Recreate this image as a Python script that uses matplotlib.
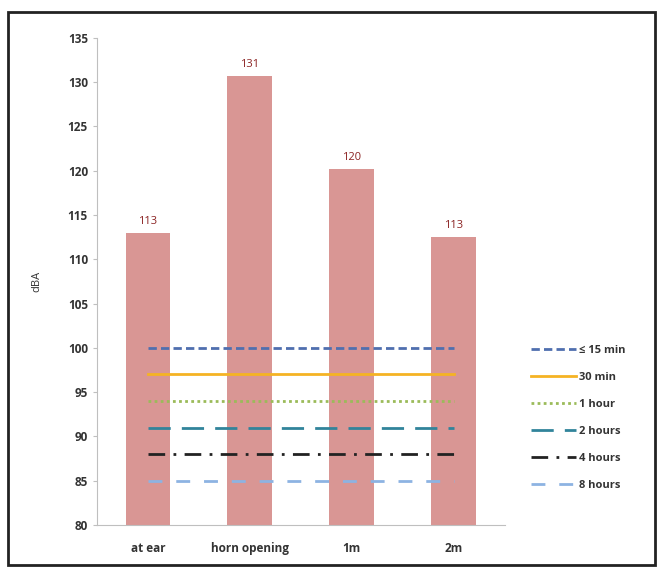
import matplotlib.pyplot as plt
from matplotlib.patches import Rectangle

categories = ["at ear", "horn opening", "1m", "2m"]
levels = [113.0, 130.7, 120.2, 112.5]
level_labels = ["113", "131", "120", "113"]

limit_names = ["\u2264 15 min", "30 min", "1 hour", "2 hours", "4 hours", "8 hours"]
limit_values = [100, 97, 94, 91, 88, 85]
limit_colors = ["#4F6FAF", "#F5B324", "#9BBB59", "#31849B", "#222222", "#8DB3E2"]
limit_styles = [(0, (3, 1.5)), "-", (0, (1, 1.2)), (0, (8, 4)), (0, (6, 3, 1, 3)), (0, (5, 5))]

plt.rcParams['font.family'] = ['Open Sans', 'DejaVu Sans']

fig = plt.figure(figsize=(6.62, 5.71), dpi=100)
ax = fig.add_axes([0.1465, 0.0806, 0.616, 0.853])

x = list(range(len(categories)))
ax.bar(x, levels, width=0.44, color="#D99694", zorder=1)
for xi, v, lab in zip(x, levels, level_labels):
    ax.text(xi, v + 0.7, lab, ha="center", va="bottom", fontsize=8, color="#8B2323")

for name, val, col, ls in zip(limit_names, limit_values, limit_colors, limit_styles):
    ax.plot(x, [val] * len(x), color=col, linestyle=ls, linewidth=2, label=name, zorder=2)

ax.set_xlim(-0.5, 3.5)
ax.set_ylim(80, 135)
ax.set_yticks(range(80, 136, 5))
ax.set_xticks(x)
ax.set_xticklabels(categories, fontsize=8.5, fontweight="bold", color="#333333")
ax.tick_params(axis="y", labelsize=8.5, colors="#333333", length=3)
ax.tick_params(axis="x", length=0, pad=12)
for lab in ax.get_yticklabels():
    lab.set_fontweight("bold")
ax.set_ylabel("dBA", fontsize=8, color="#333333", labelpad=18)

for s in ["top", "right"]:
    ax.spines[s].set_visible(False)
ax.spines["left"].set_color("#BFBFBF")
ax.spines["bottom"].set_color("#BFBFBF")
ax.tick_params(axis="y", color="#BFBFBF")

leg = ax.legend(loc="center left", bbox_to_anchor=(1.04, 0.22), frameon=False,
                fontsize=8, handlelength=4, labelspacing=1.45, handletextpad=0.3)
for t in leg.get_texts():
    t.set_fontweight("bold")
    t.set_color("#333333")

fig.patches.append(Rectangle((8 / 662, 6 / 571), 647 / 662, 553 / 571, transform=fig.transFigure,
                             fill=False, edgecolor="#222222", linewidth=2))

fig.savefig("out.png", dpi=100)
